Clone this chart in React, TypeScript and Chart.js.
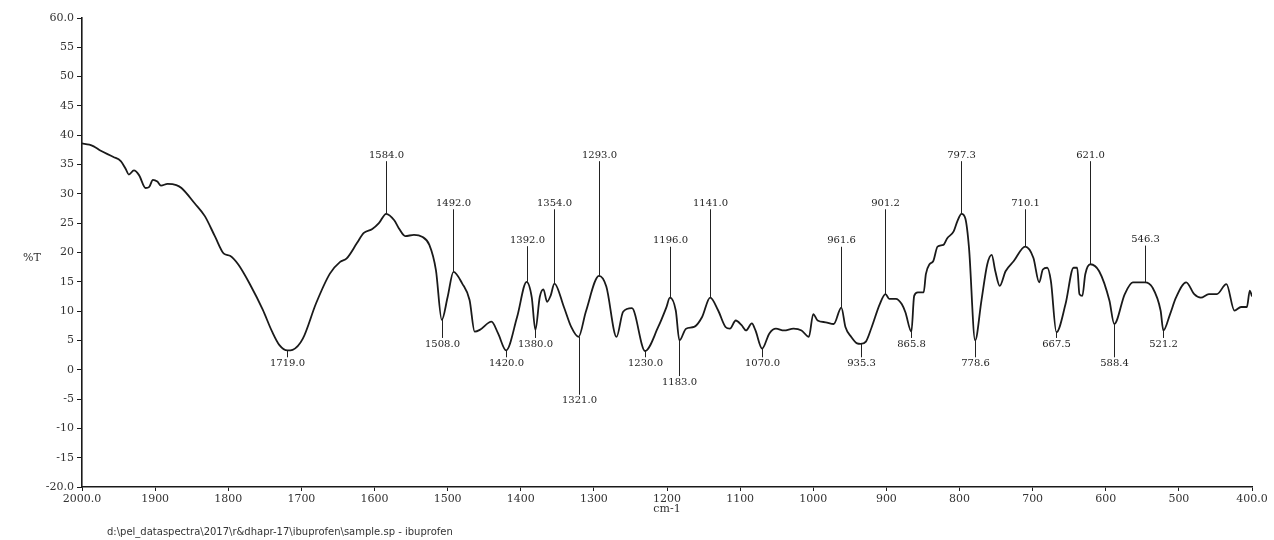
import React, { useEffect, useRef } from "react";
import { Chart, registerables } from "chart.js";

Chart.register(...registerables);

// Spectrum (wavenumber cm-1, %T)
const wavenumbers = [
  2000, 1990, 1984, 1975, 1957, 1947, 1940, 1936, 1929, 1922, 1913, 1908, 1903, 1897, 1892, 1883, 1871, 1864,
  1846, 1832, 1818, 1806, 1797, 1786, 1770, 1753, 1740, 1730, 1719, 1712, 1698, 1680, 1661, 1647, 1638, 1624,
  1615, 1603, 1594, 1584, 1573, 1567, 1558, 1546, 1535, 1525, 1516, 1508, 1500, 1492, 1480, 1470, 1463, 1456,
  1440, 1431, 1420, 1405, 1392, 1385, 1380, 1374, 1369, 1364, 1359, 1354, 1341, 1331, 1321, 1311, 1293, 1283,
  1269, 1260, 1248, 1230, 1212, 1201, 1196, 1188, 1183, 1174, 1163, 1152, 1141, 1130, 1120, 1114, 1106, 1098,
  1092, 1084, 1079, 1070, 1060, 1051, 1040, 1027, 1016, 1006, 1000, 994, 983, 972, 961.6, 956, 948, 940, 935.3,
  928, 920, 909, 901.2, 896, 887, 879, 874, 865.8, 862, 857, 849, 846, 841, 836, 830, 822, 817, 808, 803, 797.3,
  792, 787, 778.6, 770, 762, 756, 751, 745, 737, 726, 710.1, 699, 691, 686, 680, 675, 667.5, 655, 644, 639, 636,
  632, 628, 621, 609, 595, 588.4, 574, 563, 546.3, 536, 525, 521.2, 512, 504, 490, 479, 470, 459, 448, 435, 424,
  415, 407, 403, 400,
];
const transmittance = [
  38.6, 38.4, 38.1, 37.4, 36.3, 35.6, 34.2, 33.3, 34.0, 33.2, 31.0, 31.2, 32.4, 32.1, 31.4, 31.7, 31.5, 31.0,
  28.4, 26.2, 22.7, 19.8, 19.4, 17.9, 14.5, 10.3, 6.5, 4.2, 3.3, 3.4, 5.3, 11.3, 16.4, 18.4, 19.0, 21.6,
  23.3, 24.0, 25.0, 26.6, 25.5, 24.2, 22.8, 23.0, 22.7, 21.3, 17.0, 8.5, 12.4, 16.7, 14.7, 11.9, 6.5, 6.8,
  8.2, 6.2, 3.3, 9.0, 15.0, 12.4, 6.8, 12.4, 13.7, 11.6, 12.7, 14.7, 10.7, 7.3, 5.6, 9.9, 16.0, 14.2,
  5.6, 9.9, 10.5, 3.2, 7.3, 10.6, 12.3, 10.1, 5.0, 7.0, 7.3, 9.0, 12.3, 10.1, 7.3, 7.0, 8.4, 7.6,
  6.7, 7.9, 6.7, 3.6, 6.2, 7.0, 6.7, 7.0, 6.7, 5.6, 9.5, 8.4, 8.1, 7.8, 10.6, 7.3, 5.6, 4.5, 4.4,
  4.8, 7.3, 11.2, 12.9, 12.1, 12.1, 11.2, 9.8, 6.5, 12.6, 13.2, 13.2, 16.3, 18.0, 18.5, 21.0, 21.3, 22.4, 23.6, 25.3, 26.6,
  25.8, 20.8, 5.0, 11.8, 18.0, 19.6, 16.8, 14.3, 16.8, 18.5, 21.0, 19.1, 14.9, 17.1, 17.4, 15.1, 6.4, 11.2, 17.4, 17.4, 12.9,
  12.6, 16.3, 18.0, 16.8, 11.8, 7.8, 12.9, 14.9, 14.9, 14.0, 10.1, 6.7, 9.5, 12.3, 14.9, 12.9, 12.3, 12.9, 12.9, 14.6, 10.1,
  10.7, 10.7, 13.5, 12.5,
];

// Peak (maximum) annotations
const peakWn = [1584, 1492, 1392, 1354, 1293, 1196, 1141, 961.6, 901.2, 797.3, 710.1, 621, 546.3];
const peakLabels = ["1584.0", "1492.0", "1392.0", "1354.0", "1293.0", "1196.0", "1141.0", "961.6", "901.2", "797.3", "710.1", "621.0", "546.3"];
const peakLabelT = [36.6, 28.4, 22.1, 28.4, 36.6, 22.0, 28.4, 22.0, 28.4, 36.6, 28.4, 36.6, 22.2];

// Valley (minimum) annotations
const valleyWn = [1719, 1508, 1420, 1380, 1321, 1230, 1183, 1070, 935.3, 865.8, 778.6, 667.5, 588.4, 521.2];
const valleyLabels = ["1719.0", "1508.0", "1420.0", "1380.0", "1321.0", "1230.0", "1183.0", "1070.0", "935.3", "865.8", "778.6", "667.5", "588.4", "521.2"];
const valleyLabelT = [1.1, 4.4, 1.1, 4.4, -5.3, 1.1, -2.1, 1.1, 1.1, 4.4, 1.1, 4.4, 1.1, 4.4];

const yAxisLabel = "%T";
const xAxisLabel = "cm-1";
const footerText = "d:\\pel_dataspectra\\2017\\r&dhapr-17\\ibuprofen\\sample.sp - ibuprofen";

const curveAt = (w: number) => {
  let best = 0;
  for (let i = 1; i < wavenumbers.length; i++) {
    if (Math.abs(wavenumbers[i] - w) < Math.abs(wavenumbers[best] - w)) best = i;
  }
  return transmittance[best];
};

const annotPlugin = {
  id: "peakAnnotations",
  afterDatasetsDraw(chart: any) {
    const { ctx, scales } = chart;
    const x = scales.x;
    const y = scales.y;
    ctx.save();
    ctx.strokeStyle = "#222";
    ctx.lineWidth = 1;
    ctx.fillStyle = "#222";
    ctx.font = '10px "DejaVu Serif"';
    ctx.textAlign = "center";
    ctx.textBaseline = "middle";
    peakWn.forEach((w, i) => {
      const px = Math.round(x.getPixelForValue(w)) + 0.5;
      const py0 = y.getPixelForValue(curveAt(w));
      const ly = y.getPixelForValue(peakLabelT[i]);
      ctx.beginPath();
      ctx.moveTo(px, py0);
      ctx.lineTo(px, ly + 6);
      ctx.stroke();
      ctx.fillText(peakLabels[i], px, ly);
    });
    valleyWn.forEach((w, i) => {
      const px = Math.round(x.getPixelForValue(w)) + 0.5;
      const py0 = y.getPixelForValue(curveAt(w));
      const ly = y.getPixelForValue(valleyLabelT[i]);
      ctx.beginPath();
      ctx.moveTo(px, py0);
      ctx.lineTo(px, ly - 6);
      ctx.stroke();
      ctx.fillText(valleyLabels[i], px, ly);
    });
    // %T label
    ctx.font = '11px "DejaVu Serif"';
    ctx.fillStyle = "#333";
    ctx.fillText(yAxisLabel, 32, 258);
    // footer
    ctx.font = '10px "DejaVu Sans"';
    ctx.textAlign = "left";
    ctx.fillText(footerText, 107, 532);
    ctx.restore();
  },
};

export default function App() {
  const ref = useRef<HTMLCanvasElement>(null);
  useEffect(() => {
    const data = wavenumbers.map((w, i) => ({ x: w, y: transmittance[i] }));
    const chart = new Chart(ref.current as HTMLCanvasElement, {
      type: "line",
      data: {
        datasets: [
          {
            data,
            borderColor: "#1a1a1a",
            borderWidth: 1.8,
            pointRadius: 0,
            fill: false,
            cubicInterpolationMode: "monotone",
          },
        ],
      },
      options: {
        responsive: false,
        animation: false,
        parsing: false as any,
        layout: { padding: { top: 18, right: 22, left: 0, bottom: 0 } },
        plugins: { legend: { display: false }, tooltip: { enabled: false } },
        scales: {
          x: {
            type: "linear",
            reverse: true,
            min: 400,
            max: 2000,
            afterFit: (s: any) => {
              s.height = 53;
            },
            border: { display: true, color: "#1a1a1a", width: 1.6 },
            grid: { display: true, drawOnChartArea: false, tickLength: 4, color: "#1a1a1a" },
            ticks: {
              stepSize: 100,
              autoSkip: false,
              maxRotation: 0,
              padding: 2,
              color: "#333",
              font: { family: "DejaVu Serif", size: 11 },
              callback: (v: any) => (v === 2000 || v === 400 ? Number(v).toFixed(1) : String(v)),
            },
            title: {
              display: true,
              text: xAxisLabel,
              color: "#333",
              font: { family: "DejaVu Serif", size: 11 },
              padding: { top: 0, bottom: 24 },
            },
          },
          y: {
            type: "linear",
            min: -20,
            max: 60,
            afterFit: (s: any) => {
              s.width = 82;
            },
            border: { display: true, color: "#1a1a1a", width: 1.6 },
            grid: { display: true, drawOnChartArea: false, tickLength: 5, color: "#1a1a1a" },
            ticks: {
              stepSize: 5,
              autoSkip: false,
              padding: 3,
              color: "#333",
              font: { family: "DejaVu Serif", size: 11 },
              callback: (v: any) => (v === 60 || v === -20 ? Number(v).toFixed(1) : String(v)),
            },
          },
        },
      },
      plugins: [annotPlugin],
    });
    return () => chart.destroy();
  }, []);
  return (
    <div style={{ position: "absolute", left: 0, top: 0, width: 1274, height: 540, background: "#fff" }}>
      <canvas ref={ref} width={1274} height={540} style={{ display: "block" }} />
    </div>
  );
}
